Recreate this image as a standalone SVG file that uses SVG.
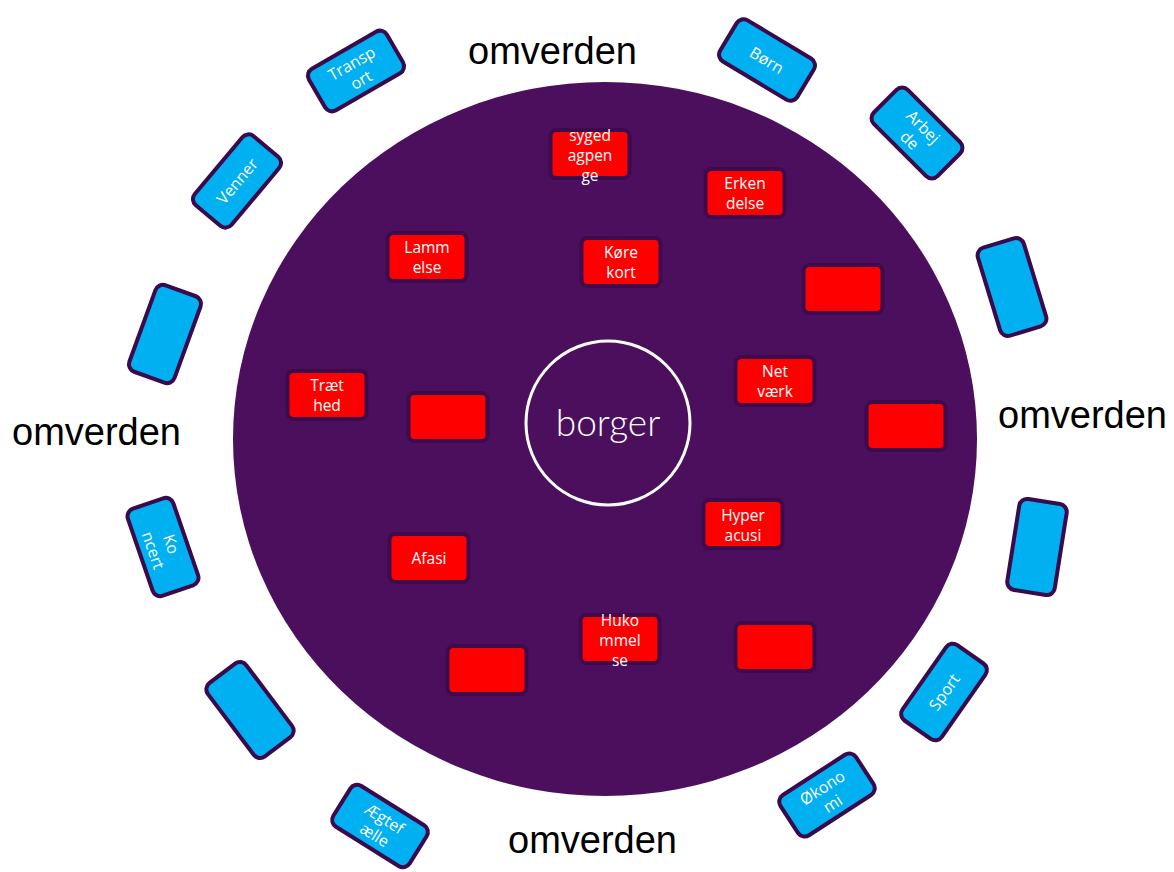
<svg xmlns="http://www.w3.org/2000/svg" width="1174" height="872" viewBox="0 0 1174 872">
<style>
.bg{fill:#4B0F5E}
.red rect{fill:#FF0000;stroke:#3D0A4C;stroke-width:4}
.blue rect{fill:#00B0F0;stroke:#3A0A4C;stroke-width:4}
.red text,.blue text{fill:#FFFFFF;font-family:"Open Sans","Liberation Sans",sans-serif;font-size:15.5px;text-anchor:middle}
.blue text{font-size:16px}
.om{fill:#000;font-family:"Liberation Sans",Arial,sans-serif;font-size:38px}
</style>
<rect width="1174" height="872" fill="#FFFFFF"/>
<ellipse class="bg" cx="605" cy="439" rx="372" ry="357"/>
<g id="omverden-labels">
<text class="om" x="468" y="64">omverden</text>
<text class="om" x="12" y="445">omverden</text>
<text class="om" x="998" y="428">omverden</text>
<text class="om" x="508" y="853">omverden</text>
</g>
<g id="borger">
<circle cx="608" cy="423" r="82" fill="none" stroke="#FFFFFF" stroke-width="3"/>
<text x="608" y="436" fill="#FFFFFF" font-family="Lato,'Open Sans',sans-serif" font-weight="300" font-size="37" text-anchor="middle">borger</text>
</g>
<g id="red-nodes">
<g id="r-sygedagpenge" class="red" transform="translate(590,154)"><rect x="-39.5" y="-24" width="79" height="48" rx="6"/><text y="-13">syged</text><text y="7">agpen</text><text y="27">ge</text></g>
<g id="r-erkendelse" class="red" transform="translate(745,193)"><rect x="-39.5" y="-24" width="79" height="48" rx="6"/><text y="-4">Erken</text><text y="16">delse</text></g>
<g id="r-lammelse" class="red" transform="translate(427,257)"><rect x="-39.5" y="-24" width="79" height="48" rx="6"/><text y="-4">Lamm</text><text y="16">else</text></g>
<g id="r-koerekort" class="red" transform="translate(621,262)"><rect x="-39.5" y="-24" width="79" height="48" rx="6"/><text y="-4">Køre</text><text y="16">kort</text></g>
<g id="r-empty1" class="red" transform="translate(843,289)"><rect x="-39.5" y="-24" width="79" height="48" rx="6"/></g>
<g id="r-netvaerk" class="red" transform="translate(775,381)"><rect x="-39.5" y="-24" width="79" height="48" rx="6"/><text y="-4">Net</text><text y="16">værk</text></g>
<g id="r-empty2" class="red" transform="translate(906,426)"><rect x="-39.5" y="-24" width="79" height="48" rx="6"/></g>
<g id="r-hyperacusi" class="red" transform="translate(743,524)"><rect x="-39.5" y="-24" width="79" height="48" rx="6"/><text y="-3">Hyper</text><text y="17">acusi</text></g>
<g id="r-traethed" class="red" transform="translate(327,395)"><rect x="-39.5" y="-24" width="79" height="48" rx="6"/><text y="-4">Træt</text><text y="16">hed</text></g>
<g id="r-empty3" class="red" transform="translate(448,417)"><rect x="-39.5" y="-24" width="79" height="48" rx="6"/></g>
<g id="r-afasi" class="red" transform="translate(429,558)"><rect x="-39.5" y="-24" width="79" height="48" rx="6"/><text y="6">Afasi</text></g>
<g id="r-empty4" class="red" transform="translate(487,670)"><rect x="-39.5" y="-24" width="79" height="48" rx="6"/></g>
<g id="r-hukommelse" class="red" transform="translate(620,639)"><rect x="-39.5" y="-24" width="79" height="48" rx="6"/><text y="-13">Huko</text><text y="7">mmel</text><text y="27">se</text></g>
<g id="r-empty5" class="red" transform="translate(775,647)"><rect x="-39.5" y="-24" width="79" height="48" rx="6"/></g>
</g>
<g id="blue-nodes">
<g id="b-transport" class="blue" transform="translate(356,71) rotate(-30)"><rect x="-45" y="-24" width="90" height="48" rx="8"/><text y="-3">Transp</text><text y="16">ort</text></g>
<g id="b-boern" class="blue" transform="translate(767,60) rotate(31)"><rect x="-45" y="-24" width="90" height="48" rx="8"/><text y="6">Børn</text></g>
<g id="b-arbejde" class="blue" transform="translate(917,133) rotate(45)"><rect x="-45" y="-24" width="90" height="48" rx="8"/><text y="-3">Arbej</text><text y="16">de</text></g>
<g id="b-venner" class="blue" transform="translate(237,181) rotate(-50)"><rect x="-45" y="-24" width="90" height="48" rx="8"/><text y="6">Venner</text></g>
<g id="b-empty-r1" class="blue" transform="translate(1012,287) rotate(73)"><rect x="-46" y="-24" width="92" height="48" rx="8"/></g>
<g id="b-empty-r2" class="blue" transform="translate(1037,547) rotate(99)"><rect x="-46" y="-24" width="92" height="48" rx="8"/></g>
<g id="b-sport" class="blue" transform="translate(944,692) rotate(-55)"><rect x="-46" y="-24" width="92" height="48" rx="8"/><text y="6">Sport</text></g>
<g id="b-oekonomi" class="blue" transform="translate(827,795) rotate(-33)"><rect x="-45" y="-24" width="90" height="48" rx="8"/><text y="-3">Økono</text><text y="16">mi</text></g>
<g id="b-aegtefaelle" class="blue" transform="translate(380,826) rotate(32)"><rect x="-45" y="-24" width="90" height="48" rx="8"/><text y="-3">Ægtef</text><text y="16">ælle</text></g>
<g id="b-empty-l2" class="blue" transform="translate(250,710) rotate(53)"><rect x="-46" y="-24" width="92" height="48" rx="8"/></g>
<g id="b-koncert" class="blue" transform="translate(163,547) rotate(71)"><rect x="-46" y="-24" width="92" height="48" rx="8"/><text y="-3">Ko</text><text y="16">ncert</text></g>
<g id="b-empty-l1" class="blue" transform="translate(165,334) rotate(-70)"><rect x="-46" y="-24" width="92" height="48" rx="8"/></g>
</g>
<g id="connectors"></g>
</svg>
